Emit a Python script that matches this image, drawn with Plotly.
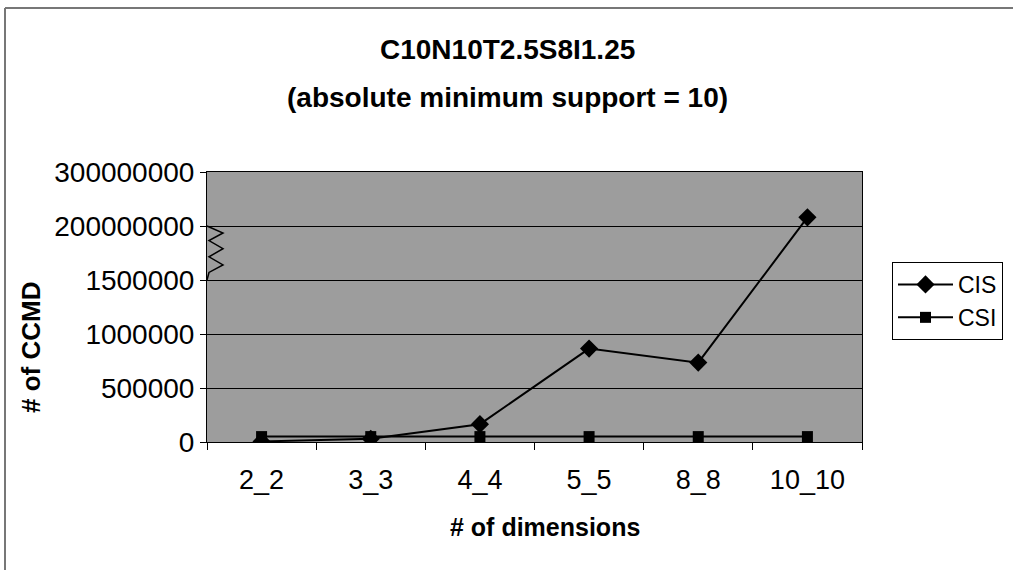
import plotly.graph_objects as go

# ---- data ----
categories = ["2_2", "3_3", "4_4", "5_5", "8_8", "10_10"]
cis_values = [5000, 30000, 165000, 865000, 735000, 216000000]
csi_values = [50000, 50000, 50000, 50000, 50000, 50000]
y_tick_values = [0, 500000, 1000000, 1500000, 200000000, 300000000]
y_tick_labels = ["0", "500000", "1000000", "1500000", "200000000", "300000000"]

BREAK_LOW = 1500000      # last value shown on the linear lower segment
BREAK_HIGH = 200000000   # first value of the compressed upper segment
UPPER_POS = 2000000      # axis position of BREAK_HIGH
UPPER_SCALE = 500000 / 100000000  # 100M per 500k of axis above the break


def to_axis(v):
    """Map a real value onto the broken y axis."""
    if v <= BREAK_LOW:
        return v
    return UPPER_POS + (v - BREAK_HIGH) * UPPER_SCALE


cis_axis = [to_axis(v) for v in cis_values]
csi_axis = [to_axis(v) for v in csi_values]
tick_axis = [to_axis(v) for v in y_tick_values]

FONT = "Liberation Sans, Arial, sans-serif"

fig = go.Figure()
fig.add_trace(go.Scatter(
    x=categories, y=cis_axis, name="CIS", mode="lines+markers",
    line=dict(color="black", width=2),
    marker=dict(symbol="diamond", size=14, color="black"),
))
fig.add_trace(go.Scatter(
    x=categories, y=csi_axis, name="CSI", mode="lines+markers",
    line=dict(color="black", width=2),
    marker=dict(symbol="square", size=11, color="black"),
))

# layout geometry (pixels)
W, H = 1013, 570
L, R, T, B = 207, 862, 172, 442


def px_x(x):
    return (x - L) / (R - L)


def px_y(y):
    return (B - y) / (B - T)


fig.update_layout(
    width=W, height=H,
    margin=dict(l=L, r=W - R, t=T, b=H - B, autoexpand=False),
    paper_bgcolor="white",
    plot_bgcolor="#9d9d9d",
    font=dict(family=FONT, color="black"),
    showlegend=True,
    legend=dict(
        x=px_x(892), y=px_y(262), xanchor="left", yanchor="top",
        bordercolor="black", borderwidth=1, bgcolor="white",
        font=dict(size=23, family=FONT, color="black"),
        itemwidth=55, tracegroupgap=4,
    ),
    xaxis=dict(
        type="category", range=[-0.5, 5.5],
        showline=True, linecolor="black", linewidth=1, mirror=True,
        ticks="outside", ticklen=7, tickcolor="black", tickson="boundaries",
        showgrid=False, automargin=False,
        tickfont=dict(size=27, family=FONT, color="black"),
        ticklabelstandoff=14,
    ),
    yaxis=dict(
        range=[0, 2500000],
        tickvals=tick_axis, ticktext=y_tick_labels,
        showline=True, linecolor="black", linewidth=1, mirror=True,
        ticks="outside", ticklen=6, tickcolor="black",
        showgrid=True, gridcolor="black", gridwidth=1,
        zeroline=False, automargin=False,
        tickfont=dict(size=28, family=FONT, color="black"),
    ),
)

# titles as annotations for exact placement
for text, ypx in [("<b>C10N10T2.5S8I1.25</b>", 49),
                  ("<b>(absolute minimum support = 10)</b>", 97)]:
    fig.add_annotation(
        text=text, xref="paper", yref="paper",
        x=px_x(507), y=px_y(ypx),
        showarrow=False, xanchor="center", yanchor="middle",
        font=dict(size=28, family=FONT, color="black"),
    )
fig.add_annotation(
    text="<b># of dimensions</b>", xref="paper", yref="paper",
    x=px_x(545), y=px_y(527), showarrow=False,
    xanchor="center", yanchor="middle",
    font=dict(size=25, family=FONT, color="black"),
)
fig.add_annotation(
    text="<b># of CCMD</b>", xref="paper", yref="paper",
    x=px_x(31), y=px_y(348), showarrow=False, textangle=-90,
    xanchor="center", yanchor="middle",
    font=dict(size=26, family=FONT, color="black"),
)

# axis break zigzag
zig = [(207, 2000000), (223, 1935000), (209, 1865000), (223, 1790000),
       (209, 1715000), (223, 1640000), (209, 1570000), (207, 1500000)]
path = "M " + " L ".join(f"{px_x(x):.5f},{y}" for x, y in zig)
fig.add_shape(type="path", path=path, xref="paper", yref="y",
              line=dict(color="black", width=1.5))

# outer chart frame (only top and left edges are visible in the reference)
fig.add_shape(type="line", xref="paper", yref="paper",
              x0=px_x(5), x1=px_x(1200), y0=px_y(8), y1=px_y(8),
              line=dict(color="#777777", width=2), layer="below")
fig.add_shape(type="line", xref="paper", yref="paper",
              x0=px_x(5), x1=px_x(5), y0=px_y(8), y1=px_y(700),
              line=dict(color="#777777", width=2), layer="below")

fig.write_html(
    "out.html",
    config={"displayModeBar": False},
    post_script=(
        "document.body.style.margin='0';"
        "document.body.style.overflow='hidden';"
        "document.documentElement.style.overflow='hidden';"
    ),
)
